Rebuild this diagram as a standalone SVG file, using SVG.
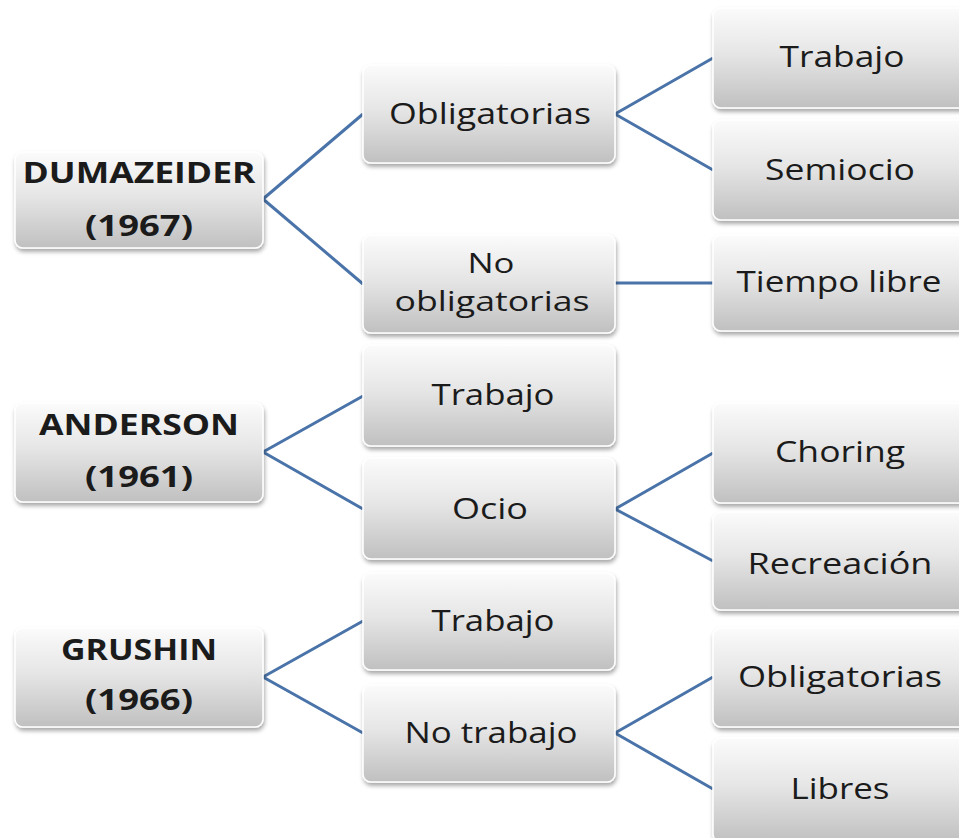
<svg xmlns="http://www.w3.org/2000/svg" width="959" height="838" viewBox="0 0 959 838">
<defs>
<linearGradient id="g" x1="0" y1="0" x2="0" y2="1">
<stop offset="0" stop-color="#fbfbfb"/>
<stop offset="0.45" stop-color="#e6e6e6"/>
<stop offset="1" stop-color="#c0c0c0"/>
</linearGradient>
<filter id="sh" x="-10%" y="-10%" width="125%" height="135%">
<feDropShadow dx="1" dy="3" stdDeviation="2" flood-color="#000" flood-opacity="0.35"/>
</filter>
</defs>
<style>
.box{fill:url(#g);stroke:#ffffff;stroke-width:1.5;filter:url(#sh)}
.t{font-family:"Open Sans","Liberation Sans",sans-serif;font-size:30px;fill:#1b1b1b;text-anchor:middle}
.s{font-size:27px}
.b{font-family:"Open Sans","Liberation Sans",sans-serif;font-size:28px;font-weight:bold;fill:#1b1b1b;text-anchor:middle}
.c{fill:none;stroke:#4a74a9;stroke-width:3;stroke-linejoin:round}
</style>
<rect width="959" height="838" fill="#ffffff"/>
<g id="connectors">
<polyline class="c" points="363,114 263,199 363,284"/>
<polyline class="c" points="713,58 615,114 713,170"/>
<line class="c" x1="615" y1="283" x2="713" y2="283"/>
<polyline class="c" points="363,396 263,452 363,509"/>
<polyline class="c" points="713,453 615,509 713,561"/>
<polyline class="c" points="363,621 263,677 363,733"/>
<polyline class="c" points="713,677 615,733 713,789"/>
</g>
<g id="dumazeider">
<rect class="box" x="15" y="152" width="248" height="96" rx="8"/>
<text class="b" x="139" y="183" textLength="233" lengthAdjust="spacingAndGlyphs">DUMAZEIDER</text>
<text class="b" x="139" y="236" textLength="108" lengthAdjust="spacingAndGlyphs">(1967)</text>
</g>
<g id="anderson">
<rect class="box" x="15" y="403" width="248" height="99" rx="8"/>
<text class="b" x="139" y="435" textLength="200" lengthAdjust="spacingAndGlyphs">ANDERSON</text>
<text class="b" x="139" y="487" textLength="108" lengthAdjust="spacingAndGlyphs">(1961)</text>
</g>
<g id="grushin">
<rect class="box" x="15" y="628" width="248" height="99" rx="8"/>
<text class="b" x="139" y="660" textLength="156" lengthAdjust="spacingAndGlyphs">GRUSHIN</text>
<text class="b" x="139" y="710" textLength="108" lengthAdjust="spacingAndGlyphs">(1966)</text>
</g>
<g id="obligatorias1">
<rect class="box" x="363" y="65" width="252" height="98" rx="8"/>
<text class="t" x="490" y="124" textLength="202" lengthAdjust="spacingAndGlyphs">Obligatorias</text>
</g>
<g id="noobligatorias">
<rect class="box" x="363" y="235" width="252" height="98" rx="8"/>
<text class="t s" x="491" y="273" textLength="47" lengthAdjust="spacingAndGlyphs">No</text>
<text class="t s" x="492" y="311" textLength="195" lengthAdjust="spacingAndGlyphs">obligatorias</text>
</g>
<g id="trabajo-anderson">
<rect class="box" x="363" y="345" width="252" height="101" rx="8"/>
<text class="t" x="493" y="405" textLength="123" lengthAdjust="spacingAndGlyphs">Trabajo</text>
</g>
<g id="ocio">
<rect class="box" x="363" y="458" width="252" height="101" rx="8"/>
<text class="t" x="490" y="519" textLength="76" lengthAdjust="spacingAndGlyphs">Ocio</text>
</g>
<g id="trabajo-grushin">
<rect class="box" x="363" y="573" width="252" height="97" rx="8"/>
<text class="t" x="493" y="631" textLength="123" lengthAdjust="spacingAndGlyphs">Trabajo</text>
</g>
<g id="notrabajo">
<rect class="box" x="363" y="685" width="252" height="97" rx="8"/>
<text class="t" x="491" y="743" textLength="173" lengthAdjust="spacingAndGlyphs">No trabajo</text>
</g>
<g id="trabajo-dumazeider">
<rect class="box" x="713" y="8" width="262" height="100" rx="8"/>
<text class="t" x="842" y="67" textLength="125" lengthAdjust="spacingAndGlyphs">Trabajo</text>
</g>
<g id="semiocio">
<rect class="box" x="713" y="120" width="262" height="100" rx="8"/>
<text class="t" x="840" y="180" textLength="150" lengthAdjust="spacingAndGlyphs">Semiocio</text>
</g>
<g id="tiempolibre">
<rect class="box" x="713" y="235" width="262" height="96" rx="8"/>
<text class="t" x="839" y="292" textLength="205" lengthAdjust="spacingAndGlyphs">Tiempo libre</text>
</g>
<g id="choring">
<rect class="box" x="713" y="403" width="262" height="100" rx="8"/>
<text class="t" x="840" y="462" textLength="130" lengthAdjust="spacingAndGlyphs">Choring</text>
</g>
<g id="recreacion">
<rect class="box" x="713" y="512" width="262" height="98" rx="8"/>
<text class="t" x="840" y="574" textLength="185" lengthAdjust="spacingAndGlyphs">Recreación</text>
</g>
<g id="obligatorias2">
<rect class="box" x="713" y="628" width="262" height="99" rx="8"/>
<text class="t" x="840" y="687" textLength="204" lengthAdjust="spacingAndGlyphs">Obligatorias</text>
</g>
<g id="libres">
<rect class="box" x="713" y="738" width="262" height="104" rx="8"/>
<text class="t" x="840" y="799" textLength="99" lengthAdjust="spacingAndGlyphs">Libres</text>
</g>
</svg>
